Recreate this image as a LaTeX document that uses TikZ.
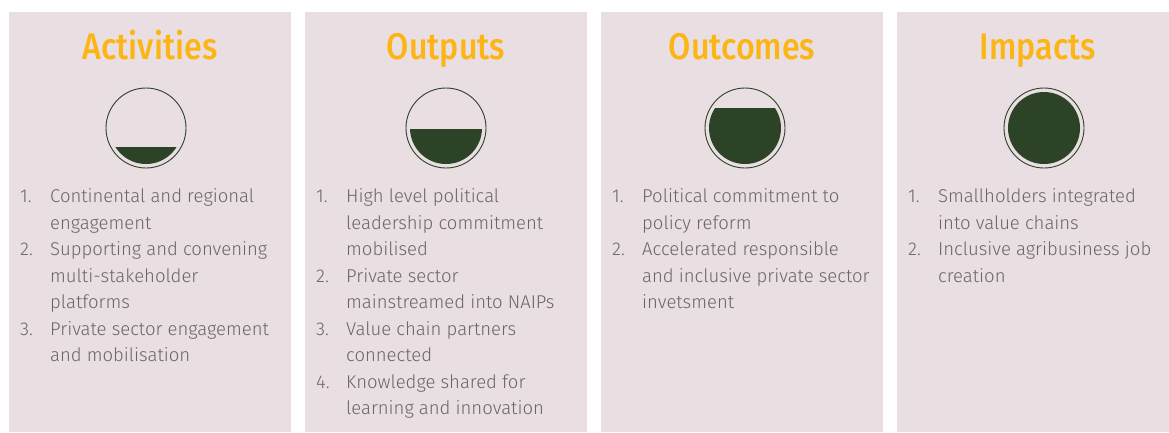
\documentclass[tikz,border=0pt]{standalone}
\usepackage{fontspec}
\usepackage{array}
\setmainfont{Fira Sans Light}
\newfontfamily\headfont{Fira Sans Medium}[FakeStretch=0.87]

\definecolor{panelbg}{HTML}{E9DEE2}
\definecolor{headorange}{HTML}{FDB515}
\definecolor{leafgreen}{HTML}{2C4327}
\definecolor{listgrey}{HTML}{676767}

\begin{document}
\begin{tikzpicture}[
    x=1pt, y=-1pt,
    panel/.style={fill=panelbg, anchor=north west, minimum width=282pt, minimum height=420pt, inner sep=0pt},
    heading/.style={anchor=base, text=headorange, font=\headfont\fontsize{37}{40}\selectfont},
    gauge/.style={circle, draw=leafgreen, line width=0.9pt, minimum size=80pt, inner sep=0pt},
    itemlist/.style={anchor=base west, inner sep=0pt, text=listgrey, font=\fontsize{18.5}{26.5}\selectfont}
]

\useasboundingbox (0,0) rectangle (1169,432);

% --- Activities ---
\begin{scope}[shift={(9,0)}]
    \node[panel] (p1) at (0,12) {};
    \node[heading] (h1) at (141,59) {Activities};
    \node[gauge] (g1) at (137,128) {};
    \begin{scope}
        \clip (g1.center) circle (36pt);
        \fill[leafgreen] (90,147) rectangle (190,170);
    \end{scope}
    \node[itemlist] (l1) at (11,202.5) {\begin{tabular}[t]{@{}p{30pt}@{}l@{}}
        1. & Continental and regional\\
           & engagement\\
        2. & Supporting and convening\\
           & multi-stakeholder\\
           & platforms\\
        3. & Private sector engagement\\
           & and mobilisation
    \end{tabular}};
\end{scope}

% --- Outputs ---
\begin{scope}[shift={(305,0)}]
    \node[panel] (p2) at (0,12) {};
    \node[heading] (h2) at (141,59) {Outputs};
    \node[gauge] (g2) at (141,128) {};
    \begin{scope}
        \clip (g2.center) circle (36pt);
        \fill[leafgreen] (90,129) rectangle (190,170);
    \end{scope}
    \node[itemlist] (l2) at (11,202.5) {\begin{tabular}[t]{@{}p{30pt}@{}l@{}}
        1. & High level political\\
           & leadership commitment\\
           & mobilised\\
        2. & Private sector\\
           & mainstreamed into NAIPs\\
        3. & Value chain partners\\
           & connected\\
        4. & Knowledge shared for\\
           & learning and innovation
    \end{tabular}};
\end{scope}

% --- Outcomes ---
\begin{scope}[shift={(601,0)}]
    \node[panel] (p3) at (0,12) {};
    \node[heading] (h3) at (141,59) {Outcomes};
    \node[gauge] (g3) at (144,128) {};
    \begin{scope}
        \clip (g3.center) circle (36pt);
        \fill[leafgreen] (90,108) rectangle (190,170);
    \end{scope}
    \node[itemlist] (l3) at (11,202.5) {\begin{tabular}[t]{@{}p{30pt}@{}l@{}}
        1. & Political commitment to\\
           & policy reform\\
        2. & Accelerated responsible\\
           & and inclusive private sector\\
           & invetsment
    \end{tabular}};
\end{scope}

% --- Impacts ---
\begin{scope}[shift={(897,0)}]
    \node[panel] (p4) at (0,12) {};
    \node[heading] (h4) at (141,59) {Impacts};
    \node[gauge] (g4) at (147,128) {};
    \fill[leafgreen] (g4.center) circle (36pt);
    \node[itemlist] (l4) at (11,202.5) {\begin{tabular}[t]{@{}p{30pt}@{}l@{}}
        1. & Smallholders integrated\\
           & into value chains\\
        2. & Inclusive agribusiness job\\
           & creation
    \end{tabular}};
\end{scope}

\end{tikzpicture}
\end{document}
